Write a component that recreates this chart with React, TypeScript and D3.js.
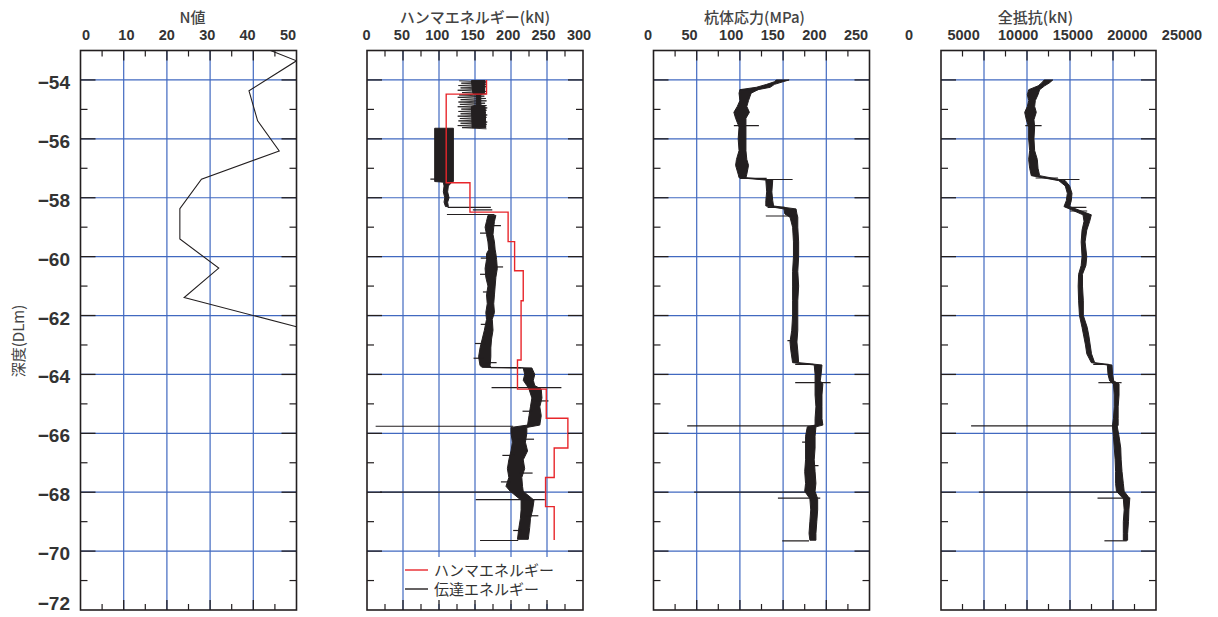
import React from 'react';
import * as d3 from 'd3';

type Row = [number, number, number]; // [depth, low, high]

const W = 1218;
const H = 617;

// N値 (SPT)
const nDepth = [-53.0, -53.35, -54.37, -55.39, -56.41, -57.37, -58.37, -59.4, -60.39, -61.39, -62.38];
const nValue = [44, 50, 39, 41, 46, 28, 23, 23, 32, 24, 50];

// ハンマエネルギー: step starts (depth) and values (kN)
const hammerDepth = [-54.0, -54.48, -57.49, -58.49, -59.49, -60.48, -61.5, -63.51, -64.5, -65.49, -66.5, -67.5, -68.49, -69.62];
const hammerValue = [166, 110, 143, 196, 205, 217, 214, 209, 249, 279, 260, 248, 260];

// 伝達エネルギー: zigzag section near top (depth, low, high)
const energyZig: Row[] = [
  [-54.03, 128, 166], [-54.11, 131, 165], [-54.19, 127, 166], [-54.27, 130, 164],
  [-54.35, 126, 166], [-54.43, 132, 165], [-54.51, 128, 163], [-54.59, 126, 165],
  [-54.67, 130, 166], [-54.75, 127, 164], [-54.83, 129, 166], [-54.91, 126, 167],
  [-54.99, 131, 166], [-55.07, 127, 165], [-55.15, 130, 167], [-55.23, 126, 166],
  [-55.31, 129, 165], [-55.39, 127, 167], [-55.47, 130, 166], [-55.55, 126, 165],
  [-55.62, 132, 166],
];
// 伝達エネルギー: dense envelope
const energyCore: Row[] = [
  [-54.02, 145, 164], [-54.45, 147, 163], [-54.5, 152, 158], [-54.85, 152, 158],
  [-54.9, 145, 164], [-55.62, 146, 165],
];
const energyBand: Row[] = [
  [-55.64, 94, 120], [-57.45, 94, 120],
  [-57.47, 106, 118], [-57.6, 107, 113], [-57.8, 106, 112], [-58.0, 108, 114], [-58.15, 107, 112], [-58.3, 109, 113],
];
const energyBand2: Row[] = [
  [-58.6, 168, 179], [-58.8, 166, 177], [-59.0, 164, 176], [-59.25, 166, 175], [-59.5, 168, 177],
  [-59.77, 169, 178], [-59.9, 166, 179], [-60.1, 166, 180], [-60.4, 164, 181], [-60.7, 165, 179],
  [-61.0, 168, 178], [-61.3, 166, 177], [-61.6, 167, 176], [-61.9, 165, 177], [-62.13, 166, 174],
  [-62.5, 163, 175], [-62.8, 160, 173], [-63.1, 157, 172], [-63.4, 155, 172], [-63.7, 157, 171],
  [-63.76, 160, 172], [-63.78, 217, 229], [-64.0, 219, 233], [-64.2, 217, 231], [-64.38, 222, 233],
  [-64.5, 225, 242], [-64.8, 229, 243], [-65.1, 227, 240], [-65.4, 225, 242], [-65.72, 223, 240],
  [-65.8, 200, 222], [-66.0, 200, 222], [-66.3, 202, 220], [-66.6, 200, 223], [-66.9, 197, 217],
  [-67.2, 195, 219], [-67.5, 197, 215], [-67.8, 193, 216], [-67.97, 199, 217],
  [-68.27, 214, 232], [-68.6, 214, 230], [-68.9, 213, 227], [-69.2, 211, 226], [-69.6, 209, 224],
];
const energySpikes: Row[] = [
  [-57.37, 88, 96], [-58.33, 112, 172], [-58.41, 147, 174], [-58.57, 111, 177],
  [-63.77, 172, 214], [-64.45, 173, 270], [-65.76, 12, 203], [-68.0, 18, 247],
  [-68.25, 151, 247], [-69.64, 157, 210],
  // short noise excursions visible along the trace
  [-58.95, 172, 186], [-59.2, 157, 170], [-60.05, 158, 172], [-60.35, 175, 189], [-60.6, 157, 170],
  [-61.2, 161, 175], [-62.3, 158, 168], [-62.95, 150, 165], [-63.45, 148, 162], [-63.6, 165, 180],
  [-64.9, 232, 252], [-65.25, 216, 230], [-66.2, 208, 232], [-66.75, 188, 205], [-67.35, 212, 230],
  [-67.65, 186, 200], [-68.8, 220, 238], [-69.3, 203, 215],
];

// 杭体応力 (MPa)
const stressBand: Row[] = [
  [-54.0, 142, 157], [-54.06, 140, 150], [-54.15, 131, 140], [-54.25, 119, 135], [-54.33, 100, 121],
  [-54.45, 99, 113], [-54.7, 100, 110], [-54.9, 97, 108], [-55.1, 93, 111], [-55.3, 95, 107],
  [-55.6, 99, 107], [-56.0, 98, 107], [-56.4, 99, 107], [-56.7, 96, 108], [-56.9, 95, 110],
  [-57.2, 98, 108], [-57.32, 99, 107],
  [-57.4, 130, 138], [-57.8, 131, 137], [-58.1, 130, 138], [-58.28, 130, 139],
  [-58.38, 151, 165], [-58.55, 152, 166],
  [-58.66, 158, 167], [-59.0, 161, 167], [-59.5, 162, 168], [-60.0, 162, 168], [-60.5, 161, 167],
  [-61.0, 161, 168], [-61.5, 161, 167], [-62.0, 161, 167], [-62.5, 160, 167], [-62.9, 158, 166],
  [-63.2, 159, 167], [-63.6, 161, 168],
  [-63.68, 186, 195], [-64.0, 187, 194], [-64.22, 187, 193], [-64.32, 187, 196], [-64.7, 187, 195],
  [-65.1, 188, 195], [-65.5, 187, 195], [-65.72, 187, 196],
  [-65.78, 178, 188], [-66.1, 176, 187], [-66.5, 176, 187], [-66.9, 176, 186], [-67.3, 175, 187],
  [-67.7, 176, 188], [-67.97, 175, 187],
  [-68.22, 181, 190], [-68.6, 182, 190], [-69.0, 181, 189], [-69.4, 180, 188], [-69.63, 181, 188],
];
const stressSpikes: Row[] = [
  [-54.33, 100, 121], [-55.55, 93, 122], [-57.34, 100, 131], [-57.38, 128, 161], [-58.33, 132, 152],
  [-58.62, 130, 163], [-63.66, 164, 185], [-64.28, 164, 205], [-65.75, 39, 187],
  [-68.0, 47, 180], [-68.2, 144, 193], [-69.65, 149, 180],
  [-62.85, 155, 165], [-66.3, 172, 182], [-67.1, 185, 191],
];

// 全抵抗 (kN)
const resistBand: Row[] = [
  [-54.0, 12000, 13000], [-54.1, 11700, 12600], [-54.2, 11300, 12050], [-54.33, 10200, 11470],
  [-54.5, 10040, 11280], [-54.7, 10200, 10970], [-54.9, 10040, 10890], [-55.1, 9730, 11080],
  [-55.35, 9920, 10810], [-55.6, 10190, 10890], [-56.0, 10190, 10810], [-56.4, 10310, 10890],
  [-56.7, 10190, 11200], [-57.0, 10310, 11280], [-57.25, 10500, 11470],
  [-57.42, 13700, 14450], [-57.6, 14450, 14960], [-57.85, 14690, 15230], [-58.1, 14570, 15150],
  [-58.3, 14300, 14960],
  [-58.58, 16510, 17480], [-58.8, 16630, 17290], [-59.1, 16400, 16950], [-59.5, 16300, 16750],
  [-60.0, 16400, 16950], [-60.3, 16300, 16850], [-60.6, 16000, 16450], [-61.0, 15950, 16450],
  [-61.5, 16000, 16550], [-62.0, 16100, 16550], [-62.4, 16400, 17000], [-62.7, 16600, 17200],
  [-63.0, 16800, 17350], [-63.3, 16950, 17500], [-63.6, 17480, 17870],
  [-63.68, 19340, 19880], [-64.0, 19420, 19950], [-64.22, 19610, 20080],
  [-64.32, 20050, 20700], [-64.7, 20150, 20700], [-65.1, 20150, 20600], [-65.5, 20050, 20600],
  [-65.72, 19950, 20600], [-65.78, 19950, 20500], [-66.1, 20050, 20700], [-66.5, 20150, 20900],
  [-66.9, 20250, 20950], [-67.3, 20300, 21050], [-67.7, 20300, 21200], [-67.97, 20400, 21300],
  [-68.22, 21200, 21950], [-68.6, 21300, 21850], [-69.0, 21200, 21800], [-69.4, 21200, 21700],
  [-69.63, 21200, 21700],
];
const resistSpikes: Row[] = [
  [-55.55, 9800, 11700], [-57.33, 11000, 13600], [-57.38, 13000, 16100], [-58.33, 14500, 16900],
  [-58.45, 15000, 17000], [-63.66, 17700, 19500], [-64.28, 18300, 21000], [-65.75, 3500, 20200],
  [-68.0, 4400, 20700], [-68.2, 18200, 22000], [-69.65, 19000, 21600],
];

const depthLabels = d3.range(-54, -73, -2);
const depthGrid = d3.range(-54, -71, -2);
const depthMinor = d3.range(-55, -72, -2);

const panels = [
  { key: 'n', title: 'N値', max: 50, major: 10, x0: 80.5, x1: 296.5, labels: [86, 288], titleDx: 4 },
  { key: 'e', title: 'ハンマエネルギー(kN)', max: 300, major: 50, x0: 367, x1: 583, labels: [366.5, 579], titleDx: 0 },
  { key: 's', title: '杭体応力(MPa)', max: 250, major: 50, x0: 653.5, x1: 869.5, labels: [648, 856], titleDx: -7 },
  { key: 'r', title: '全抵抗(kN)', max: 25000, major: 5000, x0: 941, x1: 1156, labels: [909, 1182], titleDx: -13 },
];

const INK = '#231f20';
const GRID = '#4169c0';
const TXT = '#333';
const NUM_FONT = '"Liberation Sans", Arial, sans-serif';
const JP_FONT = '"Noto Sans CJK JP", "Noto Sans", sans-serif';

export default function App() {
  const y = d3.scaleLinear().domain([-53, -72]).range([50.5, 610]);
  const top = y(-53);
  const bot = y(-72);

  const band = (x: d3.ScaleLinear<number, number>, rows: Row[]) =>
    d3.area<Row>().y((d) => y(d[0])).x0((d) => x(d[1])).x1((d) => x(d[2]))(rows) || '';

  const zig = (x: d3.ScaleLinear<number, number>, rows: Row[]) =>
    d3.line<[number, number]>().x((d) => x(d[1])).y((d) => y(d[0]))(
      rows.flatMap((r) => [[r[0], r[1]], [r[0] - 0.04, r[2]]] as [number, number][])
    ) || '';

  const spikes = (x: d3.ScaleLinear<number, number>, rows: Row[]) =>
    rows.map((r, i) => (
      <line key={i} x1={x(r[1])} x2={x(r[2])} y1={y(r[0])} y2={y(r[0])} stroke={INK} strokeWidth={1.2} />
    ));

  const drawData = (key: string, x: d3.ScaleLinear<number, number>) => {
    if (key === 'n') {
      const line = d3.line<number>().x((d) => x(d)).y((_, i) => y(nDepth[i]));
      return <path d={line(nValue) || ''} fill="none" stroke={INK} strokeWidth={1.1} />;
    }
    if (key === 'e') {
      const pts = hammerDepth.map((d, i) => [hammerValue[Math.min(i, hammerValue.length - 1)], d] as [number, number]);
      const step = d3.line<[number, number]>().x((d) => x(d[0])).y((d) => y(d[1])).curve(d3.curveStepBefore);
      return (
        <g>
          <path d={zig(x, energyZig)} fill="none" stroke={INK} strokeWidth={0.9} />
          <path d={band(x, energyCore)} fill={INK} stroke={INK} strokeWidth={1} />
          <path d={band(x, energyBand)} fill={INK} stroke={INK} strokeWidth={1} />
          <path d={band(x, energyBand2)} fill={INK} stroke={INK} strokeWidth={1} />
          {spikes(x, energySpikes)}
          <path d={step(pts) || ''} fill="none" stroke="#e8262b" strokeWidth={1.4} />
        </g>
      );
    }
    if (key === 's') {
      return (
        <g>
          <path d={band(x, stressBand)} fill={INK} stroke={INK} strokeWidth={1} />
          {spikes(x, stressSpikes)}
        </g>
      );
    }
    return (
      <g>
        <path d={band(x, resistBand)} fill={INK} stroke={INK} strokeWidth={1} />
        {spikes(x, resistSpikes)}
      </g>
    );
  };

  return (
    <div style={{ position: 'absolute', left: 0, top: 0, width: W, height: H, background: '#fff' }}>
      <svg width={W} height={H} viewBox={`0 0 ${W} ${H}`} style={{ display: 'block' }}>
        <rect width={W} height={H} fill="#fff" />
        <defs>
          {panels.map((p) => (
            <clipPath key={p.key} id={`clip-${p.key}`}>
              <rect x={p.x0} y={top} width={p.x1 - p.x0} height={bot - top} />
            </clipPath>
          ))}
        </defs>

        {/* depth labels */}
        {depthLabels.map((d) => (
          <text key={d} x={70} y={Math.min(y(d) + 4, 605)} textAnchor="end" dominantBaseline="middle"
            fontFamily={NUM_FONT} fontWeight="bold" fontSize={19} fill={TXT}>
            {d3.format('d')(d)}
          </text>
        ))}
        <text transform={`translate(20,341) rotate(-90)`} textAnchor="middle" dominantBaseline="middle"
          fontFamily={JP_FONT} fontSize={15} fill="#444">
          深度(DLm)
        </text>

        {panels.map((p) => {
          const x = d3.scaleLinear().domain([0, p.max]).range([p.x0, p.x1]);
          const lx = d3.scaleLinear().domain([0, p.max]).range(p.labels);
          const majors = d3.range(0, p.max + 1, p.major);
          const inner = majors.slice(1, -1);
          const minors = d3.range(p.major / 2, p.max, p.major);
          return (
            <g key={p.key}>
              <text x={(p.x0 + p.x1) / 2 + p.titleDx} y={23} textAnchor="middle"
                fontFamily={JP_FONT} fontSize={15} fontWeight={500} fill="#444">
                {p.title}
              </text>
              {majors.map((v) => (
                <text key={v} x={lx(v)} y={40} textAnchor="middle"
                  fontFamily={NUM_FONT} fontWeight="bold" fontSize={14.5} fill={TXT}>
                  {v}
                </text>
              ))}
              {/* grid */}
              {inner.map((v) => (
                <line key={`vg${v}`} x1={x(v)} x2={x(v)} y1={top} y2={bot} stroke={GRID} strokeWidth={1.2} />
              ))}
              {depthGrid.map((d) => (
                <line key={`hg${d}`} x1={p.x0} x2={p.x1} y1={y(d)} y2={y(d)} stroke={GRID} strokeWidth={1.2} />
              ))}
              <g clipPath={`url(#clip-${p.key})`}>{drawData(p.key, x)}</g>
              {p.key === 'e' && (
                <g>
                  <rect x={405} y={557} width={p.x1 - 405 - 1} height={bot - 557 - 6} fill="#fff" />
                  <line x1={405} x2={428} y1={570} y2={570} stroke="#e8262b" strokeWidth={1.4} />
                  <text x={434} y={576} fontFamily={JP_FONT} fontSize={15} fill={TXT}>ハンマエネルギー</text>
                  <line x1={405} x2={428} y1={589} y2={589} stroke={INK} strokeWidth={1.4} />
                  <text x={434} y={595} fontFamily={JP_FONT} fontSize={15} fill={TXT}>伝達エネルギー</text>
                </g>
              )}
              {/* ticks */}
              {depthGrid.map((d) => (
                <g key={`mt${d}`}>
                  <line x1={p.x0} x2={p.x0 + 15} y1={y(d)} y2={y(d)} stroke={INK} strokeWidth={1.3} />
                  <line x1={p.x1 - 15} x2={p.x1} y1={y(d)} y2={y(d)} stroke={INK} strokeWidth={1.3} />
                </g>
              ))}
              {depthMinor.map((d) => (
                <g key={`nt${d}`}>
                  <line x1={p.x0} x2={p.x0 + 7} y1={y(d)} y2={y(d)} stroke={INK} strokeWidth={1.2} />
                  <line x1={p.x1 - 7} x2={p.x1} y1={y(d)} y2={y(d)} stroke={INK} strokeWidth={1.2} />
                </g>
              ))}
              {inner.map((v) => (
                <g key={`xt${v}`}>
                  <line x1={x(v)} x2={x(v)} y1={top} y2={top + 10} stroke={INK} strokeWidth={1.3} />
                  <line x1={x(v)} x2={x(v)} y1={bot - 10} y2={bot} stroke={INK} strokeWidth={1.3} />
                </g>
              ))}
              {minors.map((v) => (
                <g key={`xm${v}`}>
                  <line x1={x(v)} x2={x(v)} y1={top} y2={top + 6} stroke={INK} strokeWidth={1.2} />
                  <line x1={x(v)} x2={x(v)} y1={bot - 6} y2={bot} stroke={INK} strokeWidth={1.2} />
                </g>
              ))}
              <rect x={p.x0} y={top} width={p.x1 - p.x0} height={bot - top} fill="none" stroke={INK} strokeWidth={1.6} />
            </g>
          );
        })}
      </svg>
    </div>
  );
}
